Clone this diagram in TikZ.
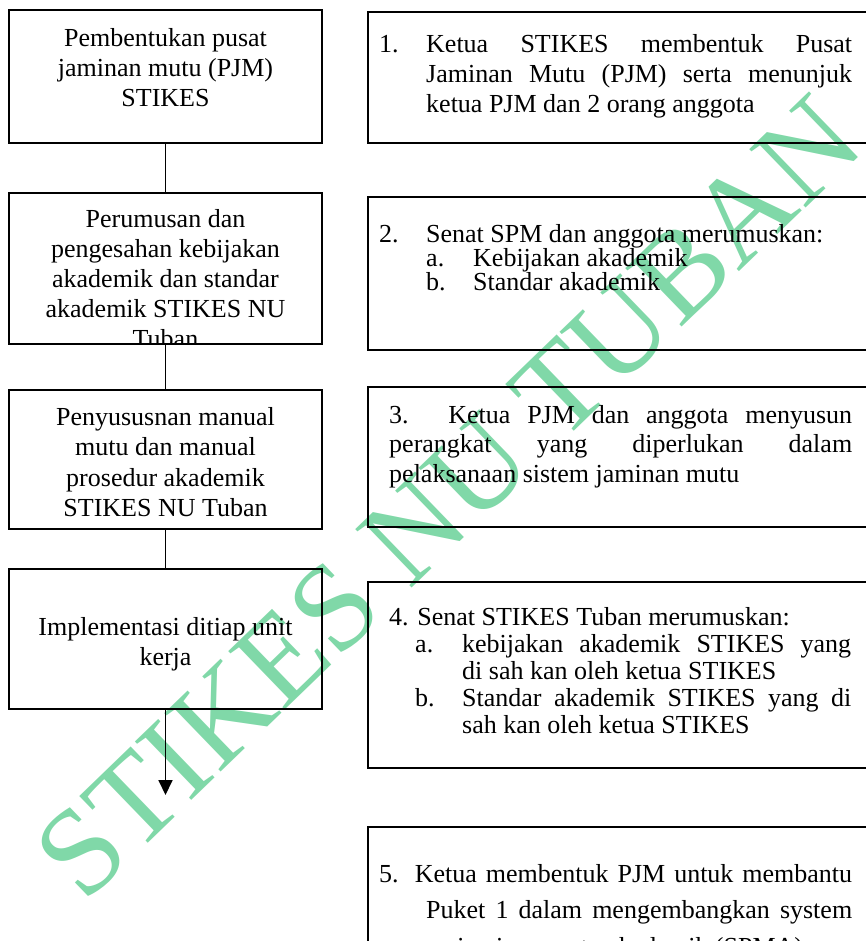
\documentclass[tikz,border=0pt]{standalone}
\usepackage{fontspec}
\setmainfont{Liberation Serif}
\usetikzlibrary{arrows.meta}
\definecolor{wmgreen}{RGB}{128,216,168}
\newcommand{\jl}[2]{\makebox[#1][s]{#2}}
\newcommand{\nr}[1]{\makebox[47pt][l]{#1}}
\tikzset{
  lbox/.style={draw,line width=1.8pt,minimum width=313pt,inner sep=0},
  rbox/.style={draw,line width=1.8pt,minimum width=517pt,inner sep=0},
  ltext/.style={align=center,inner sep=0,anchor=base,font=\fontsize{26}{30}\selectfont},
  rtext/.style={align=left,inner sep=0,anchor=base west},
  wmark/.style={text=wmgreen,inner sep=0,rotate=44,font=\fontsize{124}{124}\selectfont}
}

\begin{document}
\begin{tikzpicture}[x=1pt,y=-1pt]
\useasboundingbox (0,0) rectangle (865,941);

\node[wmark] (wm) at (448,497) {STIKES NU TUBAN};

\node[lbox, minimum height=133pt] (a) at (165.5,76.5) {};
\node[lbox, minimum height=151pt] (b) at (165.5,268.5) {};
\node[lbox, minimum height=139pt] (c) at (165.5,459.5) {};
\node[lbox, minimum height=140pt] (d) at (165.5,639) {};
\coordinate (e) at (165.5,795);

\node[ltext] (ta) at (165.5,107) {Pembentukan pusat\\ jaminan mutu (PJM)\\ STIKES};
\begin{scope}
  \clip (9,193) rectangle (322,344);
  \node[ltext] (tb) at (165.5,347) {Perumusan dan\\ pengesahan kebijakan\\ akademik dan standar\\ akademik STIKES NU\\ Tuban};
\end{scope}
\node[ltext, font=\fontsize{26}{30.5}\selectfont] (tc) at (165.5,516.5) {Penyususnan manual\\ mutu dan manual\\ prosedur akademik\\ STIKES NU Tuban};
\node[ltext] (td) at (165.5,665) {Implementasi ditiap unit\\ kerja};

\node[rbox, minimum height=131pt] (p) at (626.5,77.5) {};
\node[rbox, minimum height=153pt] (q) at (626.5,273.5) {};
\node[rbox, minimum height=140pt] (r) at (626.5,457) {};
\node[rbox, minimum height=186pt] (s) at (626.5,675) {};
\node[rbox, minimum height=163pt] (t) at (626.5,908.5) {};

\node[rtext, font=\fontsize{26}{30}\selectfont] (tp) at (379,113)
  {\nr{1.}\jl{426pt}{Ketua STIKES membentuk Pusat}\\
   \hspace*{47pt}\jl{426pt}{Jaminan Mutu (PJM) serta menunjuk}\\
   \hspace*{47pt}ketua PJM dan 2 orang anggota};
\node[rtext, font=\fontsize{26}{24}\selectfont] (tq) at (379,290)
  {\nr{2.}Senat SPM dan anggota merumuskan:\\
   \hspace*{47pt}\nr{a.}Kebijakan akademik\\
   \hspace*{47pt}\nr{b.}Standar akademik};
\node[rtext, font=\fontsize{26}{29.5}\selectfont] (tr) at (389,482)
  {\jl{463pt}{3. Ketua PJM dan anggota menyusun}\\
   \jl{463pt}{perangkat yang diperlukan dalam}\\
   pelaksanaan sistem jaminan mutu};
\node[rtext, font=\fontsize{26}{27}\selectfont] (ts) at (389,733)
  {4. Senat STIKES Tuban merumuskan:\\
   \hspace*{26pt}\nr{a.}\jl{389pt}{kebijakan akademik STIKES yang}\\
   \hspace*{73pt}di sah kan oleh ketua STIKES\\
   \hspace*{26pt}\nr{b.}\jl{389pt}{Standar akademik STIKES yang di}\\
   \hspace*{73pt}sah kan oleh ketua STIKES};
\node[rtext, font=\fontsize{26}{36.5}\selectfont] (tt) at (379,955)
  {\jl{473pt}{5. Ketua membentuk PJM untuk membantu}\\
   \hspace*{47pt}\jl{426pt}{Puket 1 dalam mengembangkan system}\\
   \hspace*{78pt}jaminan mutu akademik (SPMA)};

\draw[line width=1.8pt]
  (a) -- (b)
  (b) -- (c)
  (c) -- (d);
\draw[line width=1.8pt, -{Triangle[length=15pt,width=14pt]}] (d) -- (e);
\end{tikzpicture}
\end{document}
